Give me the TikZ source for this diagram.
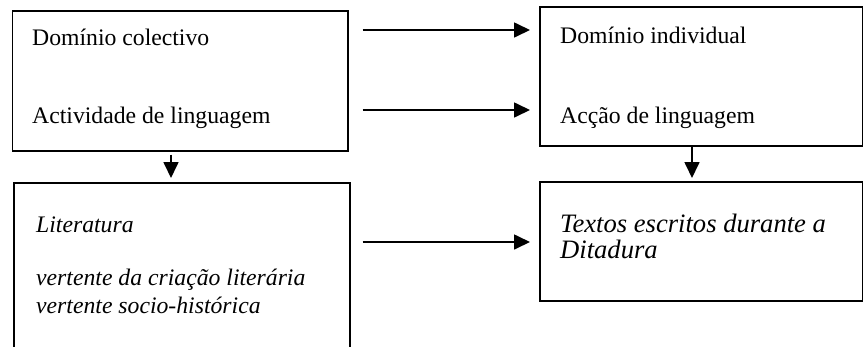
\documentclass[tikz,border=0pt]{standalone}
\usepackage{fontspec}
\setmainfont{Liberation Serif}
\usetikzlibrary{arrows.meta}
\begin{document}
\begin{tikzpicture}[x=1pt,y=-1pt,
  box/.style={draw,line width=1.7pt,rectangle,inner sep=0pt},
  arr/.style={line width=1.7pt,-{Triangle[length=16pt,width=15pt]}},
  txt/.style={anchor=base west,inner sep=0pt,font=\fontsize{23.7}{28}\selectfont},
  itx/.style={txt,font=\fontsize{23.7}{28}\selectfont\itshape},
  btx/.style={txt,font=\fontsize{26.6}{31}\selectfont\itshape}]
\useasboundingbox (0,0) rectangle (863,346);
\clip (0,0) rectangle (863,346);
% boxes
\node[box,minimum width=335.5pt,minimum height=140pt,anchor=north west] (b1) at (11.5,10) {};
\node[box,minimum width=323pt,minimum height=139pt,anchor=north west] (b2) at (539,6) {};
\node[box,minimum width=336pt,minimum height=190pt,anchor=north west] (b3) at (13,182) {};
\node[box,minimum width=323pt,minimum height=119pt,anchor=north west] (b4) at (539,181) {};
% texts
\node[txt] (t1) at (32,45.5) {Domínio colectivo};
\node[txt] (t2) at (32,123) {Actividade de linguagem};
\node[txt] (t3) at (560,43) {Domínio individual};
\node[txt] (t4) at (560,123) {Acção de linguagem};
\node[itx] (t5) at (36,232) {Literatura};
\node[itx] (t6) at (36,285) {vertente da criação literária};
\node[itx] (t7) at (36,313) {vertente socio-histórica};
\node[btx] (t8) at (560,232) {Textos escritos durante a};
\node[btx] (t9) at (560,258) {Ditadura};
% connectors
\draw[arr,shorten <=14pt,shorten >=9pt] (b1.east |- 0,30) -- (b2.west |- 0,30);
\draw[arr,shorten <=14pt,shorten >=9pt] (b1.east |- 0,110) -- (b2.west |- 0,110);
\draw[arr,shorten <=12pt,shorten >=9pt] (b3.east |- 0,242) -- (b4.west |- 0,242);
\draw[arr,shorten <=3pt,shorten >=4pt] (b1.south -| 171,0) -- (b3.north -| 171,0);
\draw[arr,shorten >=3pt] (b2.south -| 692,0) -- (b4.north -| 692,0);
\end{tikzpicture}
\end{document}
